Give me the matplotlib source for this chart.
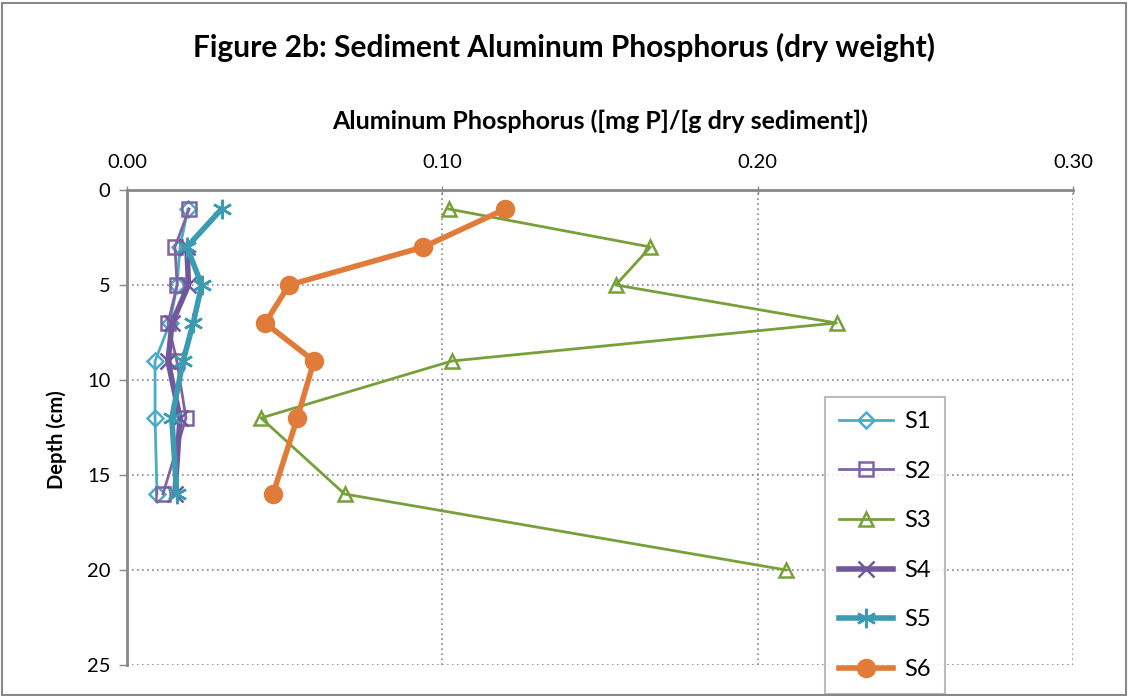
import matplotlib
matplotlib.use("Agg")
import matplotlib.pyplot as plt
from matplotlib.patches import Rectangle

plt.rcParams["font.family"] = ["Lato", "DejaVu Sans"]

depth = [1, 3, 5, 7, 9, 12, 16]
depth_s3 = [1, 3, 5, 7, 9, 12, 16, 20]
depth_s4 = [3, 5, 7, 9, 12, 16]

s1 = [0.0193, 0.0168, 0.0159, 0.0136, 0.0089, 0.0089, 0.0095]
s2 = [0.0197, 0.0152, 0.0159, 0.0130, 0.0158, 0.0187, 0.0114]
s3 = [0.102, 0.166, 0.155, 0.225, 0.103, 0.0425, 0.069, 0.209]
s4 = [0.0190, 0.0195, 0.0143, 0.0130, 0.0168, 0.0152]
s5 = [0.0300, 0.0190, 0.0237, 0.0210, 0.0178, 0.0142, 0.0158]
s6 = [0.120, 0.094, 0.0514, 0.0438, 0.0593, 0.054, 0.0463]

fig = plt.figure(figsize=(11.28, 6.96), dpi=100)
ax = fig.add_axes([127 / 1128, 1 - 665 / 696, (1073 - 127) / 1128, (665 - 190) / 696])

ax.plot(s1, depth, color="#4bacc6", lw=2, marker="D", ms=8, mfc="none", mew=1.8, label="S1")
ax.plot(s2, depth, color="#8064a2", lw=2, marker="s", ms=10, mfc="none", mew=1.8, label="S2")
ax.plot(s3, depth_s3, color="#77a03a", lw=2, marker="^", ms=10, mfc="none", mew=1.8, label="S3")
ax.plot(s4, depth_s4, color="#71589c", lw=4, marker="x", ms=12, mew=1.8, label="S4")
ax.plot(s5, depth, color="#3b9bb0", lw=4, marker=(6, 2, 0), ms=14, mew=1.8, label="S5")
ax.plot(s6, depth, color="#e07b39", lw=4, marker="o", ms=13, label="S6")

ax.set_xlim(0, 0.30)
ax.set_ylim(25, 0)
ax.set_xticks([0, 0.1, 0.2, 0.3])
ax.set_xticklabels(["0.00", "0.10", "0.20", "0.30"])
ax.set_yticks([0, 5, 10, 15, 20, 25])
ax.xaxis.tick_top()
ax.xaxis.set_label_position("top")
ax.tick_params(axis="both", labelsize=14.5, color="#888888", length=6, width=1)
ax.tick_params(axis="x", direction="inout", pad=10.5)
ax.tick_params(axis="y", direction="out", pad=6)
ax.grid(True, color="#888888", ls=(0, (1, 2)), lw=1.2)
for side in ["right", "bottom"]:
    ax.spines[side].set_visible(False)
for side in ["left", "top"]:
    ax.spines[side].set_color("#888888")
    ax.spines[side].set_linewidth(2)

ax.set_xlabel("Aluminum Phosphorus ([mg P]/[g dry sediment])", fontsize=18, fontweight="bold", labelpad=18)
ax.set_ylabel("Depth (cm)", fontsize=14.5, fontweight="bold")
ax.yaxis.set_label_coords(-0.063, 0.474)

fig.text(0.5, 1 - 47 / 696, "Figure 2b: Sediment Aluminum Phosphorus (dry weight)",
         ha="center", va="center", fontsize=21.5, fontweight="bold")

leg = ax.legend(loc="upper left", bbox_to_anchor=(825 / 1128, 1 - 397 / 696),
                bbox_transform=fig.transFigure, fontsize=17, frameon=True,
                fancybox=False, edgecolor="#aaaaaa", handlelength=2.3,
                labelspacing=1.21, borderpad=0.6, borderaxespad=0,
                handletextpad=0.45)
leg.get_frame().set_linewidth(1.5)

fig.patches.append(Rectangle((0.002, 0.002), 0.996, 0.994, transform=fig.transFigure,
                             fill=False, edgecolor="#888888", lw=1.5))

fig.savefig("out.png", dpi=100)
